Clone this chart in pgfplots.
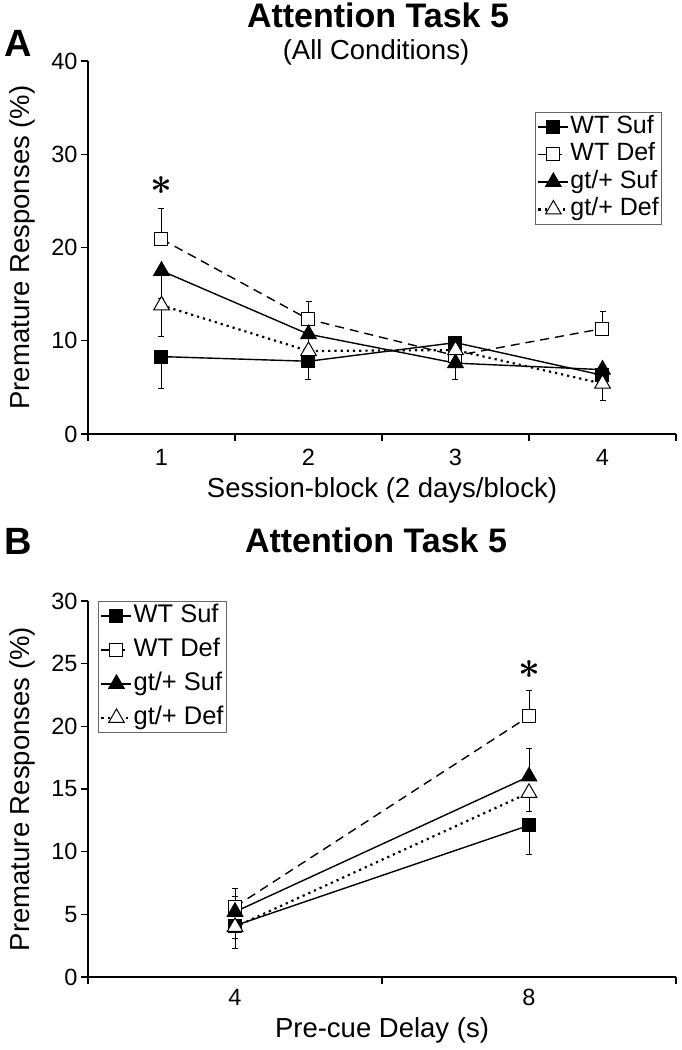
\documentclass[border=0pt]{standalone}
\usepackage{fontspec}
\setmainfont{Liberation Sans}
\usepackage{pgfplots}
\pgfplotsset{compat=1.18}
\newcommand\fs[1]{\fontsize{#1}{#1}\selectfont}
\newcommand\bstar{{\boldmath$\ast$}}
\pgfplotsset{
  basestyle/.style={
    scale only axis, width=588pt,
    axis lines=left, axis line style={-, line width=1.2pt},
    tick align=outside, tick style={black, line width=1.2pt}, major tick length=7pt,
    /pgf/number format/assume math mode=true,
    tick label style={font=\fs{23.5}},
    label style={font=\fs{27.5}},
    clip=false,
    legend cell align=left,
    legend image code/.code={\draw[mark repeat=2,mark phase=2,##1] plot coordinates {(0pt,0pt) (15pt,0pt) (30pt,0pt)};},
  },
  wtsuf/.style={black, line width=1.4pt, mark=square*, mark size=6.5pt, mark options={solid, fill=black, line width=1pt}},
  wtdef/.style={black, line width=1.4pt, dash pattern=on 9pt off 6pt, mark=square*, mark size=6.5pt, mark options={solid, fill=white, line width=1pt}},
  gtsuf/.style={black, line width=1.4pt, mark=triangle*, mark size=9pt, mark options={solid, fill=black, line width=1pt}},
  gtdef/.style={black, line width=2.2pt, dash pattern=on 2.2pt off 4pt, mark=triangle*, mark size=9pt, mark options={solid, fill=white, line width=1pt}},
  eb/.style={error bars/.cd, y dir=#1, y explicit,
    error bar style={line width=0.9pt, solid},
    error mark options={rotate=90, mark size=3pt, line width=0.9pt, solid}},
}
\begin{document}
\begin{tikzpicture}
\useasboundingbox (0,0) rectangle (681pt,1050pt);
% titles and panel letters
\node[anchor=base west, font=\fs{38}\bfseries, inner sep=0] at (4pt,993pt) {A};
\node[anchor=base, font=\fs{34}\bfseries, inner sep=0] at (378pt,1022pt) {Attention Task 5};
\node[anchor=base, font=\fs{27.5}, inner sep=0] at (376pt,990pt) {(All Conditions)};
\node[anchor=base west, font=\fs{38}\bfseries, inner sep=0] at (4pt,495pt) {B};
\node[anchor=base, font=\fs{34}\bfseries, inner sep=0] at (376pt,497pt) {Attention Task 5};

\begin{axis}[basestyle, at={(88pt,616pt)}, anchor=south west, height=373pt,
  xmin=0.5, xmax=4.5, ymin=0, ymax=40,
  ytick={0,10,20,30,40},
  xtick={0.5,1.5,2.5,3.5,4.5}, xticklabels={},
  extra x ticks={1,2,3,4}, extra x tick labels={1,2,3,4},
  extra x tick style={major tick length=0pt, tick label style={yshift=-12pt}},
  xlabel={Session-block (2 days/block)},
  ylabel={Premature Responses (\%)},
  xlabel style={at={(axis description cs:0.5,-0.152)}, anchor=center},
  ylabel style={at={(axis description cs:-0.112,0.5)}, anchor=center},
  legend style={at={(0.760,0.863)}, anchor=north west, draw=black!60, line width=0.8pt,
    font=\fs{25}, inner sep=2pt, row sep=2.5pt,
    nodes={inner sep=1pt, text height=18pt, text depth=5pt}},
]
\addplot[wtsuf, eb=minus] coordinates {(1,8.3) +- (0,3.4) (2,7.8) +- (0,2.0) (3,9.8) +- (0,1.2) (4,6.3) +- (0,1.1)};
\addplot[wtdef, eb=plus] coordinates {(1,20.9) +- (0,3.3) (2,12.3) +- (0,1.9) (3,8.4) +- (0,1.2) (4,11.3) +- (0,1.8)};
\addplot[gtsuf, eb=minus] coordinates {(1,17.5) +- (0,3.0) (2,10.7) +- (0,1.5) (3,7.6) +- (0,1.7) (4,6.9) +- (0,1.0)};
\addplot[gtdef, eb=minus] coordinates {(1,13.8) +- (0,3.3) (2,8.9) +- (0,1.5) (3,9.0) +- (0,1.2) (4,5.4) +- (0,1.8)};
\legend{WT Suf, WT Def, gt/+ Suf, gt/+ Def}
\node[scale=3.8] at (axis cs:1,26.6) {\bstar};
\end{axis}

\begin{axis}[basestyle, at={(88pt,73pt)}, anchor=south west, height=376pt,
  xmin=0.5, xmax=2.5, ymin=0, ymax=30,
  ytick={0,5,10,15,20,25,30},
  xtick={0.5,1.5,2.5}, xticklabels={},
  extra x ticks={1,2}, extra x tick labels={4,8},
  extra x tick style={major tick length=0pt, tick label style={yshift=-9pt}},
  xlabel={Pre-cue Delay (s)},
  ylabel={Premature Responses (\%)},
  xlabel style={at={(axis description cs:0.5,-0.143)}, anchor=center},
  ylabel style={at={(axis description cs:-0.112,0.5)}, anchor=center},
  legend style={at={(0.017,1)}, anchor=north west, draw=black!60, line width=0.8pt,
    font=\fs{25.5}, inner sep=2pt, row sep=9pt,
    nodes={inner sep=1pt, text height=18pt, text depth=5pt}},
]
\addplot[wtsuf, eb=minus] coordinates {(1,4.1) +- (0,1.0) (2,12.1) +- (0,2.3)};
\addplot[wtdef, eb=plus] coordinates {(1,5.6) +- (0,1.5) (2,20.8) +- (0,2.1)};
\addplot[gtsuf, eb=plus] coordinates {(1,5.2) +- (0,1.2) (2,16.0) +- (0,2.2)};
\addplot[gtdef, eb=minus] coordinates {(1,4.0) +- (0,1.7) (2,14.7) +- (0,1.5)};
\legend{WT Suf, WT Def, gt/+ Suf, gt/+ Def}
\node[scale=3.8] at (axis cs:2,24.5) {\bstar};
\end{axis}
\end{tikzpicture}
\end{document}
